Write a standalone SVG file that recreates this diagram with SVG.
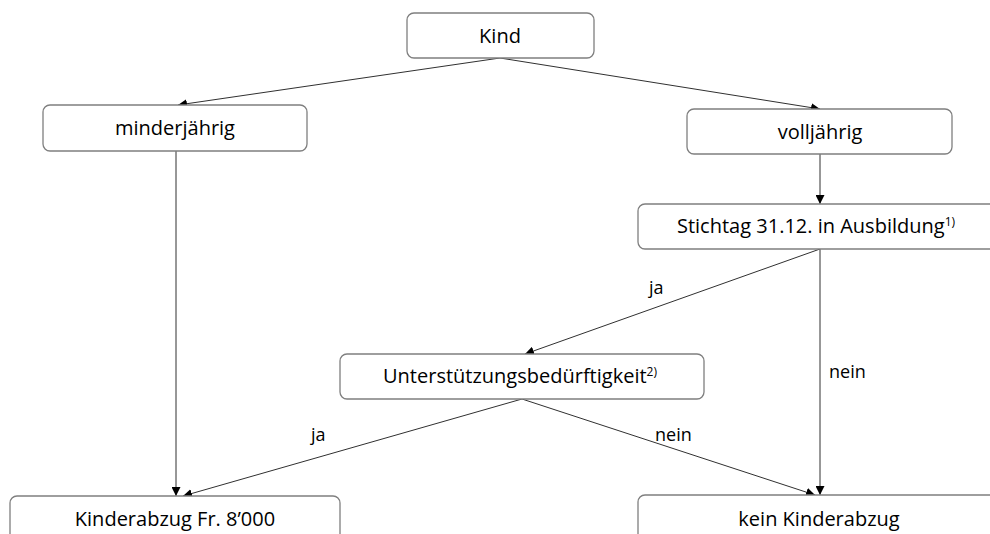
<svg xmlns="http://www.w3.org/2000/svg" width="990" height="534" viewBox="0 0 990 534">
<defs>
<marker id="ah" viewBox="0 0 10 10" refX="10" refY="5" markerWidth="9" markerHeight="9" markerUnits="userSpaceOnUse" orient="auto">
<path d="M0,0 L10,5 L0,10 Z" fill="#000"/>
</marker>
</defs>
<style>
.box{fill:#fff;stroke:#7f7f7f;stroke-width:1.3}
.t{font-family:"Open Sans","Noto Sans",sans-serif;font-size:20px;fill:#000;text-anchor:middle}
.l{font-family:"Open Sans","Noto Sans",sans-serif;font-size:18px;fill:#000}
.c{stroke:#303030;stroke-width:1;fill:none;marker-end:url(#ah)}
</style>
<rect width="990" height="534" fill="#fff"/>
<g id="connectors">
<line class="c" x1="500" y1="58" x2="178" y2="105"/>
<line class="c" x1="500" y1="58" x2="820" y2="109"/>
<line class="c" x1="176" y1="151" x2="176" y2="496"/>
<line class="c" x1="820" y1="154" x2="820" y2="204"/>
<line class="c" x1="820" y1="249" x2="525" y2="354"/>
<line class="c" x1="820" y1="249" x2="820" y2="495"/>
<line class="c" x1="522" y1="399" x2="183" y2="496"/>
<line class="c" x1="522" y1="399" x2="815" y2="495"/>
<text class="l" x="649" y="294">ja</text>
<text class="l" x="829" y="378">nein</text>
<text class="l" x="311" y="441">ja</text>
<text class="l" x="655" y="441">nein</text>
</g>
<g id="kind">
<rect class="box" x="407" y="13" width="187" height="45" rx="7"/>
<text class="t" x="500" y="43">Kind</text>
</g>
<g id="minderjaehrig">
<rect class="box" x="43" y="105" width="264" height="46" rx="7"/>
<text class="t" x="175" y="135">minderjährig</text>
</g>
<g id="volljaehrig">
<rect class="box" x="687" y="109" width="265" height="45" rx="7"/>
<text class="t" x="820" y="139">volljährig</text>
</g>
<g id="stichtag">
<rect class="box" x="638" y="204" width="364" height="45" rx="7"/>
<text class="t" x="816" y="233">Stichtag 31.12. in Ausbildung<tspan font-size="12" dy="-7">1)</tspan></text>
</g>
<g id="unterstuetzung">
<rect class="box" x="340" y="354" width="364" height="45" rx="7"/>
<text class="t" x="520" y="383">Unterstützungsbedürftigkeit<tspan font-size="12" dy="-7">2)</tspan></text>
</g>
<g id="kinderabzug">
<rect class="box" x="10" y="496" width="330" height="60" rx="7"/>
<text class="t" x="175" y="526">Kinderabzug Fr. 8’000</text>
</g>
<g id="keinkinderabzug">
<rect class="box" x="638" y="495" width="364" height="60" rx="7"/>
<text class="t" x="819" y="526">kein Kinderabzug</text>
</g>
</svg>
